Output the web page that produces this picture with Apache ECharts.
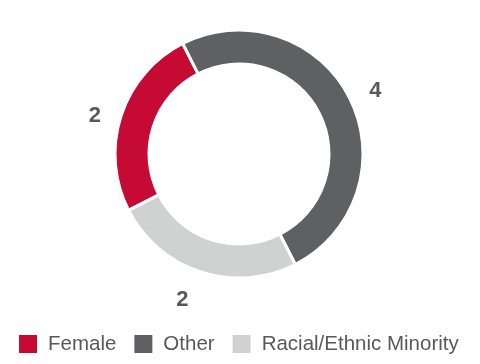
<!DOCTYPE html>
<html><head><meta charset="utf-8">
<script src="https://cdn.jsdelivr.net/npm/echarts@6/dist/echarts.min.js"></script>
<style>html,body{margin:0;padding:0;background:#fff}#c{width:480px;height:364px}</style>
</head><body><div id="c"></div>
<script>
const categories = ["Female", "Other", "Racial/Ethnic Minority"];
const values = [2, 4, 2];
const colors = ["#c50b33", "#5f6062", "#d0d2d1"];

// small per-label nudges (pixels) to match the original label placement
const labelNudge = [[4, 6], [-3, 2], [-1, 9]];

const chart = echarts.init(document.getElementById('c'));
chart.setOption({
  animation: false,
  color: colors,
  legend: {
    data: categories,
    left: 17,
    top: 333,
    padding: 0,
    itemWidth: 20,
    itemHeight: 20,
    itemGap: 16,
    icon: 'rect',
    textStyle: { fontFamily: 'Liberation Sans', fontSize: 20.5, color: '#595959', padding: [0, 0, 0, 5] }
  },
  series: [{
    type: 'pie',
    center: [239, 154],
    radius: [90, 124],
    startAngle: 207,
    clockwise: true,
    avoidLabelOverlap: false,
    itemStyle: { borderColor: '#fff', borderWidth: 3 },
    label: {
      show: true,
      position: 'outside',
      formatter: '{c}',
      fontFamily: 'Liberation Sans',
      fontSize: 22,
      fontWeight: 'bold',
      color: '#595959'
    },
    labelLine: { show: false, length: 20, length2: 0 },
    labelLayout: function (p) {
      const n = labelNudge[p.dataIndex];
      return { dx: n[0], dy: n[1] };
    },
    emphasis: { disabled: true },
    data: categories.map((n, i) => ({ name: n, value: values[i] }))
  }]
});
</script></body></html>
